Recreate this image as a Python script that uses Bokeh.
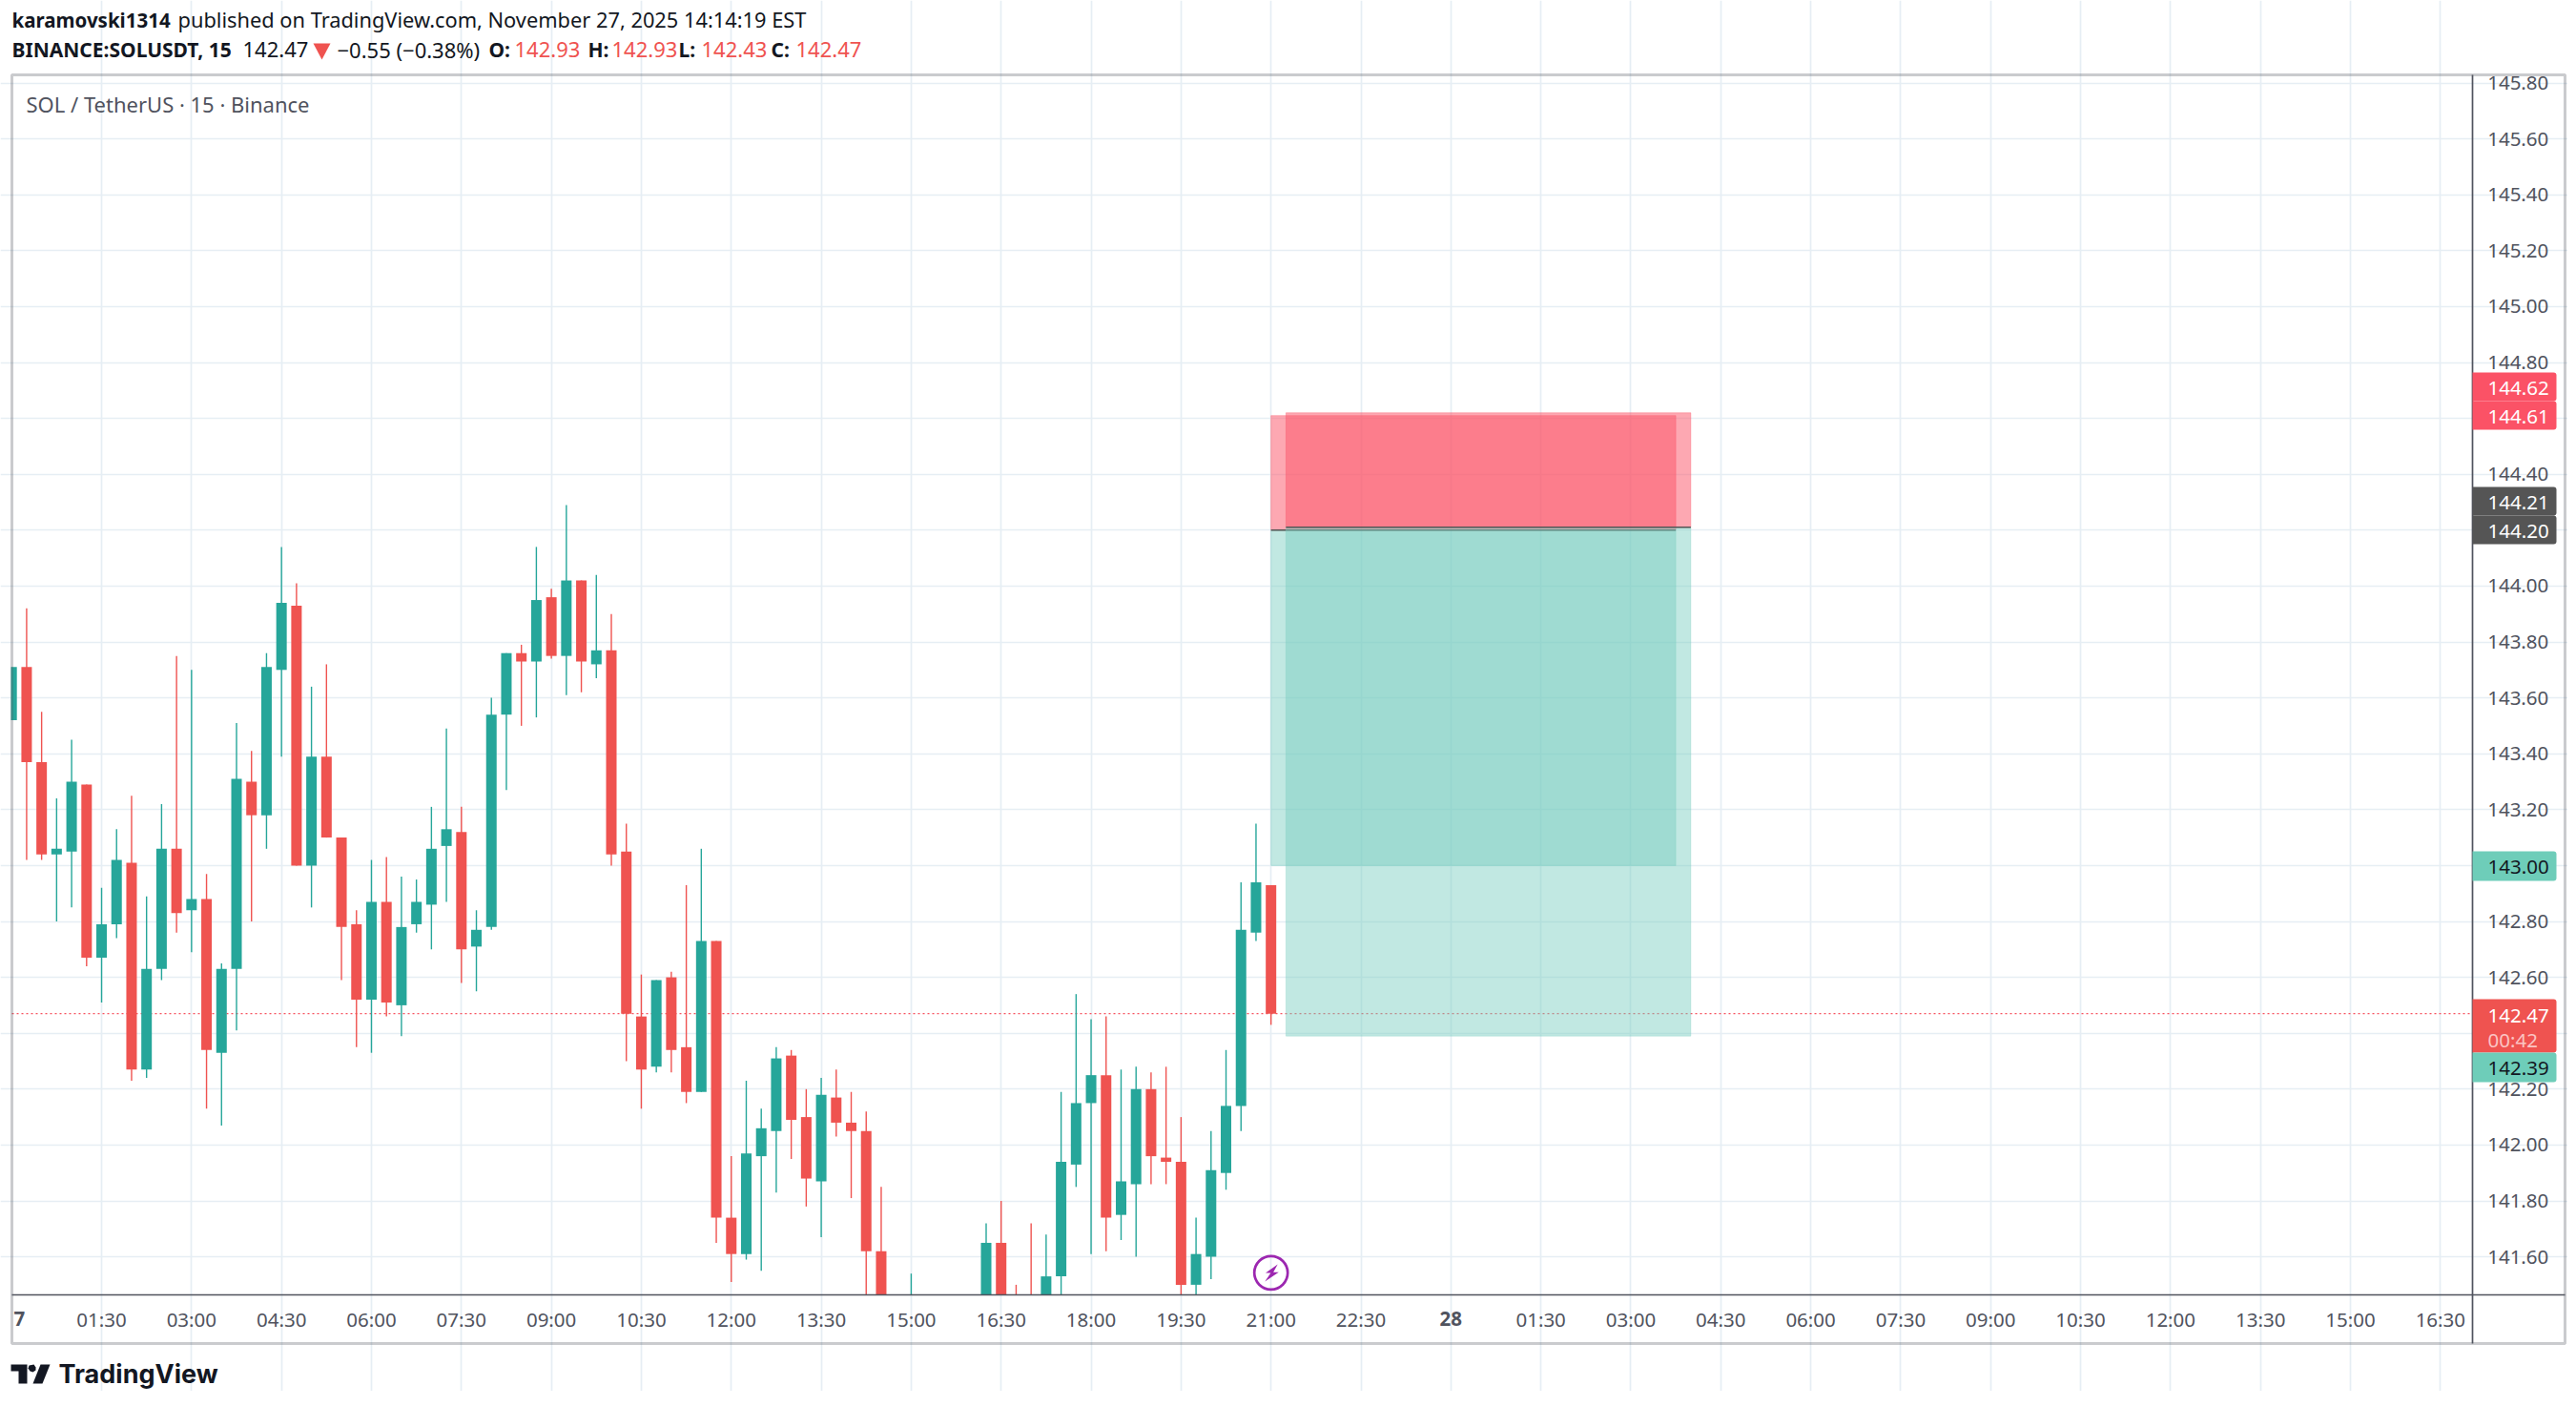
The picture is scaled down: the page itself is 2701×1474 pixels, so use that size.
from bokeh.plotting import figure
from bokeh.embed import file_html
from bokeh.resources import INLINE
from bokeh.models import (BoxAnnotation, ColumnDataSource, FixedTicker, Label, PolyAnnotation,
                          PrintfTickFormatter, Range1d)

# bars are numbered from 00:00 on the 27th, one bar = 15 minutes
opens = [143.52, 143.71, 143.37, 143.04, 143.05, 143.29, 142.67, 142.79, 143.01, 142.27,
         142.63, 143.06, 142.84, 142.88, 142.33, 142.63, 143.30, 143.18, 143.70, 143.93,
         143.00, 143.39, 143.10, 142.79, 142.52, 142.87, 142.50, 142.79, 142.86, 143.07,
         143.12, 142.71, 142.78, 143.54, 143.76, 143.73, 143.96, 143.75, 144.02, 143.72,
         143.77, 143.05, 142.46, 142.28, 142.60, 142.35, 142.19, 142.73, 141.74, 141.61,
         141.96, 142.05, 142.32, 142.10, 141.87, 142.17, 142.08, 142.05, 141.62, 141.38,
         141.30, 141.35, 141.33, 141.34, 141.28, 141.36, 141.65, 141.44, 141.42, 141.30,
         141.53, 141.93, 142.15, 142.25, 141.75, 141.86, 142.20, 141.955, 141.94, 141.50,
         141.60, 141.90, 142.14, 142.76, 142.93]
closes = [143.71, 143.37, 143.04, 143.06, 143.30, 142.67, 142.79, 143.02, 142.27, 142.63,
          143.06, 142.83, 142.88, 142.34, 142.63, 143.31, 143.18, 143.71, 143.94, 143.00,
          143.39, 143.10, 142.78, 142.52, 142.87, 142.51, 142.78, 142.87, 143.06, 143.13,
          142.70, 142.77, 143.54, 143.76, 143.73, 143.95, 143.75, 144.02, 143.73, 143.77,
          143.04, 142.47, 142.27, 142.59, 142.34, 142.19, 142.73, 141.74, 141.61, 141.97,
          142.06, 142.31, 142.09, 141.88, 142.18, 142.08, 142.05, 141.62, 141.38, 141.30,
          141.36, 141.34, 141.32, 141.30, 141.36, 141.65, 141.40, 141.40, 141.32, 141.53,
          141.94, 142.15, 142.25, 141.74, 141.87, 142.20, 141.96, 141.94, 141.50, 141.61,
          141.91, 142.14, 142.77, 142.94, 142.47]
highs = [143.71, 143.92, 143.55, 143.24, 143.45, 143.29, 142.92, 143.13, 143.25, 142.89,
         143.22, 143.75, 143.70, 142.97, 142.65, 143.51, 143.41, 143.76, 144.14, 144.01,
         143.64, 143.72, 143.10, 142.84, 143.02, 143.03, 142.96, 142.95, 143.21, 143.49,
         143.21, 142.84, 143.60, 143.76, 143.79, 144.14, 143.99, 144.29, 144.02, 144.04,
         143.90, 143.15, 142.61, 142.59, 142.62, 142.93, 143.06, 142.73, 141.96, 142.23,
         142.13, 142.35, 142.34, 142.20, 142.24, 142.27, 142.19, 142.12, 141.85, 141.42,
         141.54, 141.40, 141.38, 141.40, 141.44, 141.72, 141.80, 141.50, 141.72, 141.68,
         142.19, 142.54, 142.45, 142.46, 142.27, 142.28, 142.26, 142.28, 142.10, 141.74,
         142.05, 142.34, 142.94, 143.15, 142.93]
lows = [143.52, 143.02, 143.02, 142.80, 142.85, 142.64, 142.51, 142.74, 142.23, 142.24,
        142.59, 142.76, 142.69, 142.13, 142.07, 142.41, 142.80, 143.06, 143.39, 143.00,
        142.85, 143.10, 142.59, 142.35, 142.33, 142.46, 142.39, 142.76, 142.70, 142.87,
        142.58, 142.55, 142.77, 143.27, 143.50, 143.53, 143.74, 143.61, 143.62, 143.67,
        143.00, 142.30, 142.13, 142.26, 142.26, 142.15, 142.19, 141.65, 141.51, 141.59,
        141.55, 141.83, 141.95, 141.78, 141.67, 142.03, 141.81, 141.40, 141.30, 141.22,
        141.25, 141.28, 141.27, 141.26, 141.24, 141.30, 141.35, 141.36, 141.28, 141.25,
        141.40, 141.85, 141.61, 141.62, 141.66, 141.60, 141.86, 141.86, 141.40, 141.42,
        141.52, 141.84, 142.05, 142.73, 142.43]

time_ticks = [6 * n for n in range(1, 28)]
time_labels = ["01:30", "03:00", "04:30", "06:00", "07:30", "09:00", "10:30", "12:00", "13:30",
               "15:00", "16:30", "18:00", "19:30", "21:00", "22:30", "", "01:30", "03:00",
               "04:30", "06:00", "07:30", "09:00", "10:30", "12:00", "13:30", "15:00", "16:30"]
price_ticks = [141.6, 141.8, 142.0, 142.2, 142.4, 142.6, 142.8, 143.0, 143.2, 143.4, 143.6, 143.8,
               144.0, 144.2, 144.4, 144.6, 144.8, 145.0, 145.2, 145.4, 145.6, 145.8]

# the two short position drawings
pos_start = [84, 85]
pos_end = [111, 112]
pos_entry = [144.20, 144.21]
pos_stop = [144.61, 144.62]
pos_target = [143.00, 142.39]
last_price = 142.47
alert_bar = 84
alert_price = 141.543

UP = "#26A69A"
DOWN = "#EF5350"
GRID = "#E6EEF4"
BORDER = "#50535E"
INK = "#131722"
RED_TAG = "#FB5266"
GREEN_TAG = "#6ECDB9"
FONT = "Noto Sans"

# annotations get clipped to the frame, so the frame is the whole canvas and the axes are
# pinned at the edges of the pane with fixed_location
W, H = 2692, 1458
PX_PER_BAR = 15.72
PX_PER_UNIT = 293.0


def bar_at(px):
    return (px - 11.7) / PX_PER_BAR


def price_at(py):
    return 144.2 - (py - 555.3) / PX_PER_UNIT


x_min, x_max = bar_at(12), bar_at(2591.7)
y_min, y_max = price_at(1357), price_at(78)

p = figure(width=W, height=H, output_backend="svg", toolbar_location=None,
           x_range=Range1d(bar_at(0), bar_at(W)), y_range=Range1d(price_at(H), price_at(0)),
           y_axis_location="right", min_border=0)
p.background_fill_color = "white"
p.outline_line_color = None

p.xaxis.ticker = FixedTicker(ticks=time_ticks)
p.xaxis.major_label_overrides = dict(zip(time_ticks, time_labels))
p.xaxis.fixed_location = y_min
p.xaxis.bounds = (x_min, bar_at(2689))
p.yaxis.ticker = FixedTicker(ticks=price_ticks)
p.yaxis.formatter = PrintfTickFormatter(format="%.2f")
p.yaxis.fixed_location = x_max
p.yaxis.bounds = (price_at(1408), y_max)
for ax in (p.xaxis[0], p.yaxis[0]):
    ax.axis_line_color = BORDER
    ax.axis_line_width = 1.7
    ax.major_tick_line_color = None
    ax.minor_tick_line_color = None
    ax.major_tick_out = 0
    ax.major_tick_in = 0
    ax.major_label_text_font = FONT
    ax.major_label_text_font_size = "20.5px"
    ax.major_label_text_color = BORDER
p.xaxis.major_label_standoff = 11
p.yaxis.major_label_standoff = 16
p.xgrid.grid_line_color = GRID
p.ygrid.grid_line_color = GRID
p.xgrid.grid_line_width = 1.7
p.ygrid.grid_line_width = 1.7
p.xgrid.bounds = (y_min, y_max)
p.ygrid.bounds = (x_min, x_max)

p.segment(x_min, last_price, x_max, last_price, line_color="#F7525F", line_width=1.2,
          line_dash="2 3")

# candles, cut at the bottom and left edge of the pane
idx = list(range(len(opens)))
source = ColumnDataSource(dict(
    x=idx,
    high=[max(v, y_min) for v in highs],
    low=[max(v, y_min) for v in lows],
    top=[max(a, b, y_min) for a, b in zip(opens, closes)],
    bottom=[max(min(a, b), y_min) for a, b in zip(opens, closes)],
    left=[max(i - 0.35, x_min) for i in idx],
    right=[i + 0.35 for i in idx],
    color=[UP if c >= o else DOWN for o, c in zip(opens, closes)],
))
p.segment("x", "high", "x", "low", source=source, color="color", line_width=1.4)
p.quad("left", "right", "top", "bottom", source=source, fill_color="color", line_color=None)

# position drawings, older one first
for x0, x1, entry, stop, target in zip(pos_start, pos_end, pos_entry, pos_stop, pos_target):
    p.quad(left=x0, right=x1, bottom=entry, top=stop, fill_color=RED_TAG, fill_alpha=0.5,
           line_color=RED_TAG, line_alpha=0.35, line_width=1)
    p.quad(left=x0, right=x1, bottom=target, top=entry, fill_color="#76CDBF", fill_alpha=0.45,
           line_color="#76CDBF", line_alpha=0.3, line_width=1)
    p.segment(x0, entry, x1, entry, line_color="#555555", line_width=1.5)

p.scatter([alert_bar], [alert_price], size=35, marker="circle", fill_color=None,
          line_color="#9C27B0", line_width=2.7)


def sy(py):
    return H - py


def text(px, py, s, size=22, color=INK, style="normal", align="left", font=FONT):
    p.add_layout(Label(x=px, y=sy(py), x_units="screen", y_units="screen", text=s,
                       text_font=font, text_font_size=f"{size}px", text_font_style=style,
                       text_color=color, text_align=align, text_baseline="middle"))


def poly(points, color):
    p.add_layout(PolyAnnotation(xs=[a for a, b in points], ys=[sy(b) for a, b in points],
                                xs_units="screen", ys_units="screen", fill_color=color, fill_alpha=1,
                                line_color=None))


def tag(y0, y1, color):
    p.add_layout(BoxAnnotation(left=2592, right=2680, top=sy(y0), bottom=sy(y1),
                               left_units="screen", right_units="screen", top_units="screen",
                               bottom_units="screen", fill_color=color, fill_alpha=1,
                               line_color=None, border_radius=(0, 3, 3, 0)))


# lightning inside the alert circle
poly([(1339.2, 1324.9), (1326.5, 1334), (1331.9, 1334), (1325.8, 1342.9), (1340.3, 1333.3), (1334.6, 1333.3)], "#9C27B0")

# outer frame
p.add_layout(BoxAnnotation(left=12, right=2689, top=sy(78), bottom=sy(1408), left_units="screen",
                           right_units="screen", top_units="screen", bottom_units="screen",
                           fill_color=None, fill_alpha=0, line_color=BORDER, line_width=3))

# price axis tags
tag(390, 420, RED_TAG)
tag(420, 450, RED_TAG)
tag(510, 540, "#555555")
tag(540, 570, "#555555")
tag(892, 923, GREEN_TAG)
tag(1047, 1103, DOWN)
tag(1103, 1134, GREEN_TAG)
text(2608, 406, "144.62", 20.5, "white")
text(2608, 436, "144.61", 20.5, "white")
text(2608, 526, "144.21", 20.5, "white")
text(2608, 556, "144.20", 20.5, "white")
text(2608, 908, "143.00", 20.5, INK)
text(2608, 1064, "142.47", 20.5, "white")
text(2608, 1089, "00:42", 20.5, "#FBC4C3")
text(2608, 1119, "142.39", 20.5, INK)

# time axis labels that differ from the rest
text(14, 1382, "7", 20.5, BORDER, "bold")
text(1520.8, 1382, "28", 20.5, BORDER, "bold", "center")

# header
text(27, 108, "SOL / TetherUS · 15 · Binance", 22, BORDER)
text(12, 20, "karamovski1314", 20.5, INK, "bold")
text(186, 20, "published on TradingView.com, November 27, 2025 14:14:19 EST", 21.8)
text(12, 51, "BINANCE:SOLUSDT, 15", 21, INK, "bold")
text(254, 51, "142.47", 22)
poly([(328, 45), (346, 45), (337, 62)], DOWN)
text(353, 51, "−0.55 (−0.38%)", 22)
text(512, 51, "O:", 21, INK, "bold")
text(539, 51, "142.93", 22, DOWN)
text(616, 51, "H:", 21, INK, "bold")
text(641, 51, "142.93", 22, DOWN)
text(711, 51, "L:", 21, INK, "bold")
text(735, 51, "142.43", 22, DOWN)
text(808, 51, "C:", 21, INK, "bold")
text(834, 51, "142.47", 22, DOWN)

# logo
poly([(11, 1430), (28, 1430), (28, 1450), (19, 1450), (19, 1437), (11, 1437)], INK)
poly([(30, 1431), (35, 1430), (37, 1433), (37, 1436), (34, 1438), (31, 1437), (29, 1434)], INK)
poly([(42, 1430), (52, 1430), (44, 1450), (34, 1450)], INK)
text(61, 1440, "TradingView", 27, INK, "bold", font="Inter")

open("out.html", "w").write(file_html(p, INLINE))
